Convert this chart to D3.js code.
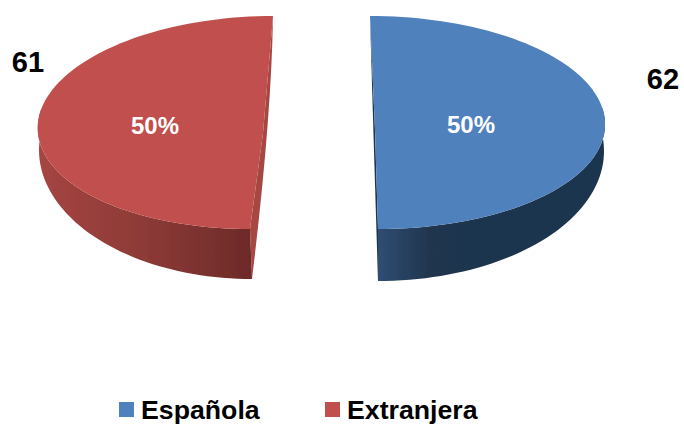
<!DOCTYPE html>
<html><head><meta charset="utf-8">
<script src="https://cdn.jsdelivr.net/npm/d3@7/dist/d3.min.js"></script>
<style>html,body{margin:0;padding:0;background:#fff}svg{display:block}text{font-family:"Liberation Sans",Arial,sans-serif;font-weight:bold}</style>
</head><body><svg id="c" width="684" height="425"></svg>
<script>
const categories = ["Española", "Extranjera"];
const counts = [62, 61];
const shares = [50, 50];
const topColors = ["#4f81bd", "#c0504d"];
const innerColors = ["#1f344f", "#a64643"];
const wallStops = [["#2f4d72", "#20364f", "#1f344f"], ["#a64541", "#8c3a37", "#6d2a28"]];

// 3-D look of each exploded slice (dir = side of the slice)
const geometry = [
  {dir: 1, top: {cx: 374, cy: 122.5, rx: 231, ry: 106.5, skew: 4}, base: {cx: 376, cy: 150, rx: 228, ry: 131, skew: 2},
   apex: [375, 130], ctrl: [-2, -10], label: [471, 124], value: [663, 79], legendX: 119},
  {dir: -1, top: {cx: 261.5, cy: 122.5, rx: 223.5, ry: 106.5, skew: -11.5}, base: {cx: 252, cy: 150, rx: 213, ry: 129, skew: 0},
   apex: [263, 133], ctrl: [8.5, -15], label: [155, 125], value: [28, 62], legendX: 325}
];

const svg = d3.select("#c");
const defs = svg.append("defs");
const blur = defs.append("filter").attr("id", "soft");
blur.append("feGaussianBlur").attr("stdDeviation", 0.5);
const pie = d3.pie().sort(null);
const arcs = pie(shares);
const color = d3.scaleOrdinal(categories, topColors);
const project = (e, dir, t) => [e.cx + dir * e.rx * Math.sin(t) - e.skew * Math.cos(t), e.cy - e.ry * Math.cos(t)];

const line = d3.line();
const samples = (a, b, n = 90) => d3.range(n + 1).map(i => a + (b - a) * i / n);

arcs.forEach((d, i) => {
  const g = geometry[i], span = d.endAngle - d.startAngle;
  const T = samples(0, span);
  const topPts = T.map(t => project(g.top, g.dir, t));
  const front = T.filter(t => t >= span * 0.45);
  const wallTop = front.map(t => project(g.top, g.dir, t));
  const wallBase = front.map(t => project(g.base, g.dir, t)).reverse();

  const gradId = "wall" + i;
  const xs = [...wallTop, ...wallBase].map(p => p[0]);
  const gr = defs.append("linearGradient").attr("id", gradId).attr("gradientUnits", "userSpaceOnUse")
    .attr("x1", d3.min(xs)).attr("x2", i === 0 ? d3.min(xs) + 100 : d3.max(xs)).attr("y1", 0).attr("y2", 0);
  wallStops[i].forEach((c, k) => gr.append("stop").attr("offset", k / 2).attr("stop-color", c));

  const marks = svg.append("g").attr("filter", "url(#soft)");
  const pTop = topPts[0], pFront = project(g.top, g.dir, span), pBase = project(g.base, g.dir, span);
  const ctrl = [g.apex[0] + g.ctrl[0], g.apex[1] + g.ctrl[1]];
  marks.append("path")
    .attr("d", `M${pTop}Q${ctrl} ${pBase}L${pFront}L${g.apex}Z`)
    .attr("fill", innerColors[i]);
  marks.append("path").attr("d", line([...wallTop, ...wallBase]) + "Z").attr("fill", `url(#${gradId})`);
  marks.append("path").attr("d", line([g.apex, ...topPts]) + "Z").attr("fill", color(categories[i]));

  svg.append("text").attr("x", g.label[0]).attr("y", g.label[1]).attr("dy", "0.36em")
    .attr("text-anchor", "middle").attr("font-size", 24).attr("fill", "#fff").text(d.data + "%");
  svg.append("text").attr("x", g.value[0]).attr("y", g.value[1]).attr("dy", "0.36em")
    .attr("text-anchor", "middle").attr("font-size", 29).attr("fill", "#000").text(counts[i]);

  svg.append("rect").attr("x", g.legendX).attr("y", 402).attr("width", 15).attr("height", 15).attr("fill", color(categories[i]));
  svg.append("text").attr("x", g.legendX + 22).attr("y", 419).attr("font-size", 26.7).attr("fill", "#000").text(categories[i]);
});
</script></body></html>
